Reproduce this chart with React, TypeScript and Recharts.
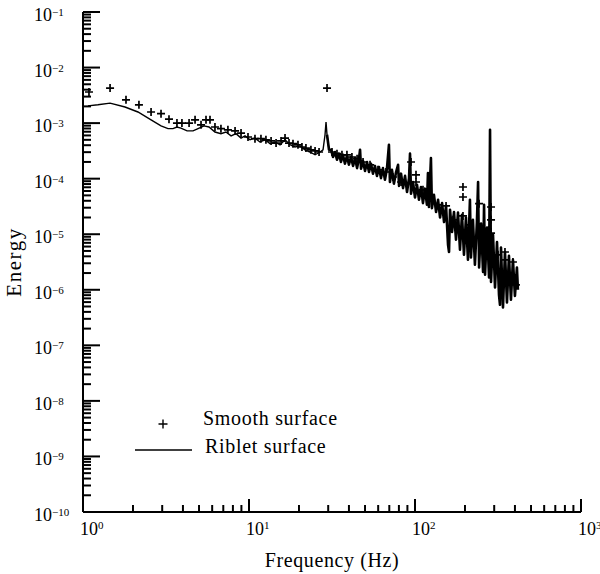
import React from 'react';
import { ScatterChart, Scatter, XAxis, YAxis, Legend } from 'recharts';

// ---- data (log10 of frequency in Hz, log10 of energy) ----
const ribletLogFreq = [
  0.030, 0.090, 0.163, 0.253, 0.331, 0.410, 0.470, 0.512, 0.542, 0.566,
  0.590, 0.627, 0.663, 0.693, 0.729, 0.759, 0.795, 0.831, 0.861, 0.892,
  0.922, 0.952, 0.976, 1.006, 1.036, 1.066, 1.096, 1.127, 1.157, 1.187,
  1.217, 1.247, 1.277, 1.307, 1.337, 1.367, 1.398, 1.428, 1.446, 1.458,
  1.464, 1.470, 1.482,
  1.494, 1.506, 1.518, 1.530, 1.542, 1.554, 1.566, 1.578, 1.590, 1.602,
  1.614, 1.627, 1.639, 1.651, 1.663, 1.669, 1.675, 1.687, 1.699, 1.711,
  1.723, 1.735, 1.747, 1.759, 1.771, 1.783, 1.795, 1.807, 1.819, 1.831,
  1.843, 1.849, 1.861, 1.873, 1.886, 1.898, 1.904, 1.916, 1.928, 1.940,
  1.952, 1.964, 1.970, 1.976, 1.988, 2.000, 2.012, 2.024, 2.036, 2.048,
  2.060, 2.072, 2.078, 2.084, 2.096, 2.102, 2.114, 2.127, 2.139, 2.151,
  2.163, 2.175, 2.187, 2.199, 2.205, 2.211, 2.223, 2.235, 2.247, 2.259,
  2.271, 2.283, 2.295, 2.307, 2.319, 2.331, 2.337, 2.349, 2.361, 2.373,
  2.380, 2.386, 2.398, 2.410, 2.416, 2.422, 2.434, 2.446, 2.452, 2.458,
  2.470, 2.482, 2.494, 2.506, 2.512, 2.518, 2.530, 2.542, 2.554, 2.566,
  2.578, 2.590, 2.602, 2.614, 2.620,
];
const ribletLogEnergy = [
  -2.69, -2.67, -2.64, -2.71, -2.80, -2.94, -3.05, -3.10, -3.10, -3.07,
  -3.09, -3.14, -3.14, -3.10, -3.05, -3.07, -3.16, -3.19, -3.16, -3.23,
  -3.19, -3.27, -3.23, -3.30, -3.27, -3.34, -3.30, -3.37, -3.34, -3.39,
  -3.30, -3.39, -3.43, -3.41, -3.48, -3.52, -3.57, -3.52, -3.48, -3.21,
  -2.98, -3.21, -3.48,
  -3.48, -3.61, -3.52, -3.66, -3.55, -3.70, -3.57, -3.73, -3.59, -3.75,
  -3.61, -3.77, -3.63, -3.81, -3.63, -3.48, -3.82, -3.68, -3.86, -3.70,
  -3.88, -3.73, -3.91, -3.77, -3.95, -3.79, -3.99, -3.81, -4.02, -3.82,
  -3.39, -4.06, -3.84, -4.09, -3.88, -3.75, -4.13, -3.91, -4.17, -3.95,
  -4.24, -3.99, -3.55, -4.27, -4.06, -4.34, -4.11, -4.38, -4.15, -4.44,
  -4.18, -4.47, -3.90, -4.51, -3.63, -4.53, -4.29, -4.60, -4.38, -4.70,
  -4.44, -4.78, -4.49, -5.19, -5.32, -4.56, -4.96, -4.60, -5.10, -4.61,
  -5.28, -4.65, -5.37, -4.70, -5.46, -4.38, -5.42, -4.74, -5.55, -4.78,
  -4.06, -5.60, -4.81, -5.68, -4.47, -5.73, -4.88, -5.78, -3.12, -5.86,
  -5.01, -5.96, -5.14, -6.09, -6.27, -5.24, -6.32, -5.32, -6.23, -5.39,
  -6.18, -5.46, -6.11, -5.60, -6.00,
];

const smoothLogFreq = [
  0.036, 0.163, 0.259, 0.337, 0.410, 0.470, 0.518, 0.566, 0.596, 0.639,
  0.675, 0.711, 0.741, 0.765, 0.795, 0.831, 0.873, 0.916, 0.952, 0.994,
  1.036, 1.072, 1.102, 1.133, 1.163, 1.193, 1.217, 1.241, 1.265, 1.295,
  1.319, 1.343, 1.373, 1.398, 1.422, 1.470, 1.500, 1.530, 1.560, 1.590,
  1.620, 1.651, 1.687, 1.729, 1.777, 1.825, 1.867, 1.916, 1.976, 2.006,
  2.006, 2.048, 2.096, 2.139, 2.187, 2.229, 2.289, 2.289, 2.289, 2.331,
  2.386, 2.422, 2.458, 2.458, 2.458, 2.500, 2.542, 2.542, 2.590, 2.590,
  2.608,
];
const smoothLogEnergy = [
  -2.44, -2.37, -2.58, -2.67, -2.80, -2.83, -2.93, -3.00, -3.00, -3.00,
  -2.94, -3.03, -2.94, -2.94, -3.07, -3.10, -3.12, -3.14, -3.18, -3.25,
  -3.28, -3.28, -3.30, -3.32, -3.36, -3.32, -3.27, -3.36, -3.37, -3.39,
  -3.43, -3.45, -3.48, -3.50, -3.52, -2.37, -3.52, -3.55, -3.57, -3.57,
  -3.61, -3.64, -3.70, -3.75, -3.84, -3.88, -3.97, -4.06, -3.70, -3.93,
  -4.06, -4.20, -4.33, -4.47, -4.49, -4.74, -4.15, -4.33, -4.67, -4.83,
  -4.45, -5.01, -4.51, -4.74, -4.98, -5.37, -5.32, -5.46, -5.50, -5.73,
  -5.91,
];

const xDecades = [1, 10, 100, 1000];
const yDecades = [1e-10, 1e-9, 1e-8, 1e-7, 1e-6, 1e-5, 1e-4, 1e-3, 1e-2, 1e-1];
const minorSteps = [2, 3, 4, 5, 6, 7, 8, 9];
const seriesNames = ['Smooth surface', 'Riblet surface'];
const xTitle = 'Frequency (Hz)';
const yTitle = 'Energy';
// above this frequency the riblet trace is a dense, heavily inked noise band
const denseFromHz = 30;

const smoothData = smoothLogFreq.map((lf, i) => ({ f: Math.pow(10, lf), e: Math.pow(10, smoothLogEnergy[i]) }));
const ribletData = ribletLogFreq.map((lf, i) => ({ f: Math.pow(10, lf), e: Math.pow(10, ribletLogEnergy[i]) }));
const ribletLow = ribletData.filter((d) => d.f <= denseFromHz + 0.5);
const ribletHigh = ribletData.filter((d, i) => d.f >= denseFromHz - 0.5 || (i > 0 && ribletData[i - 1].f >= denseFromHz - 0.5));

const buildTicks = (decades: number[]) => {
  const out: number[] = [];
  decades.forEach((d, i) => {
    out.push(d);
    if (i < decades.length - 1) minorSteps.forEach((k) => out.push(Number((k * d).toPrecision(6))));
  });
  return out;
};
const xTicks = buildTicks(xDecades);
const yTicks = buildTicks(yDecades);

const FONT = "'Liberation Serif', 'Times New Roman', serif";
const fontStyle = { fontFamily: FONT };
const TICK_W = 2;
const isMajor = (v: number) => Math.abs(Math.log10(v) - Math.round(Math.log10(v))) < 1e-6;
const expText = (v: number) => {
  const e = Math.round(Math.log10(v));
  return e < 0 ? '\u2212' + Math.abs(e) : String(e);
};

const LeftTick = (props: any) => {
  const x = Number(props.x);
  const y = Number(props.y);
  const v = props.payload.value;
  const major = isMajor(v);
  const len = major ? 17 : 8;
  return (
    <g>
      <path d={`M${x},${y}H${x + len}`} stroke="#000" strokeWidth={TICK_W} fill="none" />
      {major && (
        <text x={x - 49} y={y + 9} fontSize={18} fill="#000" style={fontStyle}>
          10<tspan dy={-5} fontSize={11}>{expText(v)}</tspan>
        </text>
      )}
    </g>
  );
};

const RightTick = (props: any) => {
  const x = Number(props.x);
  const y = Number(props.y);
  const len = isMajor(props.payload.value) ? 15 : 7;
  return <path d={`M${x},${y}H${x - len}`} stroke="#000" strokeWidth={TICK_W} fill="none" />;
};

const BottomTick = (props: any) => {
  const x = Number(props.x);
  const y = Number(props.y);
  const v = props.payload.value;
  const major = isMajor(v);
  const len = major ? 13 : 7;
  return (
    <g>
      <path d={`M${x},${y}V${y - len}`} stroke="#000" strokeWidth={TICK_W} fill="none" />
      {major && (
        <text x={x - 3} y={y + 23} fontSize={18} fill="#000" style={fontStyle}>
          10<tspan dy={-6} fontSize={11}>{expText(v)}</tspan>
        </text>
      )}
    </g>
  );
};

const TopTick = (props: any) => {
  const x = Number(props.x);
  const y = Number(props.y);
  const len = isMajor(props.payload.value) ? 13 : 7;
  return <path d={`M${x},${y}V${y + len}`} stroke="#000" strokeWidth={TICK_W} fill="none" />;
};

const XTitle = (props: any) => {
  const vb = props.viewBox || { x: 83, y: 512, width: 498, height: 62 };
  return (
    <text x={vb.x + vb.width / 2} y={vb.y + 55} textAnchor="middle" fontSize={20} letterSpacing={0.6} fill="#000" style={fontStyle}>
      {xTitle}
    </text>
  );
};

const YTitle = (props: any) => {
  const vb = props.viewBox || { x: 0, y: 12, width: 83, height: 500 };
  return (
    <text
      transform={`translate(${vb.x + 21},${vb.y + vb.height / 2}) rotate(-90)`}
      textAnchor="middle"
      fontSize={21}
      letterSpacing={1.5}
      fill="#000"
      style={fontStyle}
    >
      {yTitle}
    </text>
  );
};

const PlusShape = (props: any) => {
  const { cx, cy } = props;
  if (cx == null || cy == null) return <g />;
  return <path d={`M${cx - 4},${cy}h8M${cx},${cy - 4}v8`} stroke="#000" strokeWidth={1.7} fill="none" />;
};
const NoShape = () => <g />;

const LegendBox = (props: any) => {
  const items = (props.payload || []).filter((it: any) => it.type === 'cross' || it.type === 'line');
  return (
    <svg width={240} height={62} style={{ display: 'block', overflow: 'visible' }}>
      {items.map((it: any, i: number) => {
        const isCross = it.type === 'cross';
        const yMid = isCross ? 19 : 45;
        return (
          <g key={i}>
            {isCross ? (
              <path d={`M28.5,${yMid}h9M33,${yMid - 4.5}v9`} stroke="#000" strokeWidth={1.4} fill="none" />
            ) : (
              <line x1={5} x2={62} y1={yMid} y2={yMid} stroke="#000" strokeWidth={1.5} />
            )}
            <text x={isCross ? 73 : 75} y={isCross ? 20 : 48} fontSize={20} letterSpacing={0.7} fill="#000" style={fontStyle}>
              {it.value}
            </text>
          </g>
        );
      })}
    </svg>
  );
};

export default function App() {
  return (
    <div style={{ position: 'absolute', left: 0, top: 0, width: 600, height: 574, background: '#fff' }}>
      <ScatterChart width={600} height={574} margin={{ top: 12, right: 19, bottom: 0, left: 0 }}>
        <XAxis
          type="number"
          dataKey="f"
          scale="log"
          domain={[1, 1000]}
          allowDataOverflow
          ticks={xTicks}
          interval={0}
          tick={<BottomTick />}
          tickLine={false}
          tickSize={0}
          tickMargin={0}
          axisLine={{ stroke: '#000', strokeWidth: 2 }}
          height={62}
          label={<XTitle />}
        />
        <XAxis
          xAxisId="top"
          orientation="top"
          type="number"
          dataKey="f"
          scale="log"
          domain={[1, 1000]}
          allowDataOverflow
          ticks={xTicks}
          interval={0}
          tick={<TopTick />}
          tickLine={false}
          tickSize={0}
          tickMargin={0}
          axisLine={{ stroke: '#000', strokeWidth: 2 }}
          height={0}
        />
        <YAxis
          type="number"
          dataKey="e"
          scale="log"
          domain={[1e-10, 1e-1]}
          allowDataOverflow
          ticks={yTicks}
          interval={0}
          tick={<LeftTick />}
          tickLine={false}
          tickSize={0}
          tickMargin={0}
          axisLine={{ stroke: '#000', strokeWidth: 2 }}
          width={83}
          label={<YTitle />}
        />
        <YAxis
          yAxisId="right"
          orientation="right"
          type="number"
          dataKey="e"
          scale="log"
          domain={[1e-10, 1e-1]}
          allowDataOverflow
          ticks={yTicks}
          interval={0}
          tick={<RightTick />}
          tickLine={false}
          tickSize={0}
          tickMargin={0}
          axisLine={{ stroke: '#000', strokeWidth: 2 }}
          width={0}
        />
        {/* binds the mirrored top/right frame axes so they are drawn */}
        <Scatter
          xAxisId="top"
          yAxisId="right"
          data={smoothData}
          legendType="none"
          fill="none"
          shape={NoShape}
          isAnimationActive={false}
        />
        <Scatter
          name={seriesNames[0]}
          data={smoothData}
          legendType="cross"
          fill="#000"
          shape={PlusShape}
          isAnimationActive={false}
        />
        <Scatter
          name={seriesNames[1]}
          data={ribletLow}
          legendType="line"
          fill="#000"
          line={{ stroke: '#000', strokeWidth: 1.4 }}
          shape={NoShape}
          isAnimationActive={false}
        />
        <Scatter
          name={seriesNames[1] + ' (dense)'}
          data={ribletHigh}
          legendType="none"
          fill="#000"
          line={{ stroke: '#000', strokeWidth: 2.6, strokeLinejoin: 'round' }}
          shape={NoShape}
          isAnimationActive={false}
        />
        <Legend
          layout="vertical"
          align="center"
          verticalAlign="middle"
          wrapperStyle={{ left: 130, top: 405, width: 240, height: 62 }}
          content={<LegendBox />}
        />
      </ScatterChart>
    </div>
  );
}
